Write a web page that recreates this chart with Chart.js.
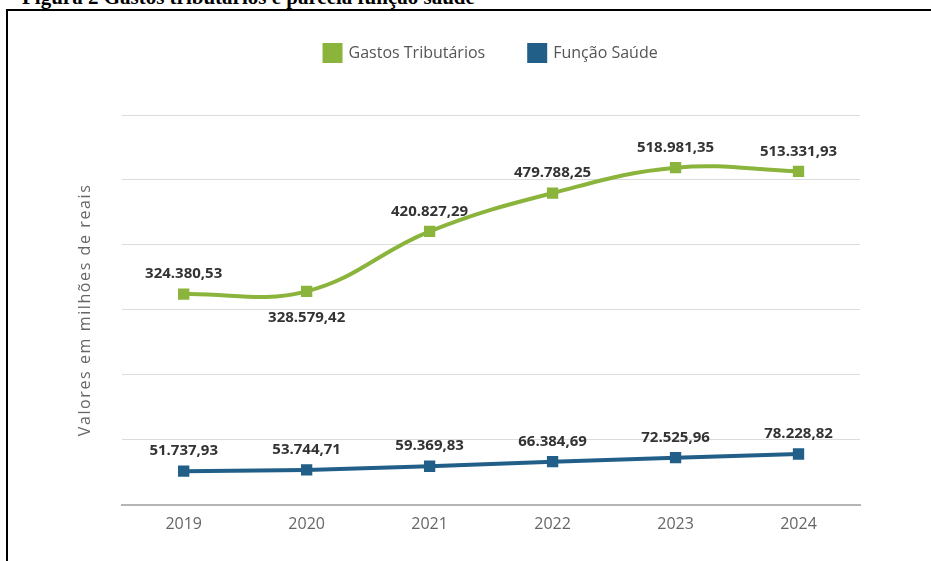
<!DOCTYPE html>
<html lang="pt-BR">
<head>
<meta charset="utf-8">
<title>Gastos tributários e parcela função saúde</title>
<script src="https://cdn.jsdelivr.net/npm/chart.js@4.4.1/dist/chart.umd.min.js"></script>
<style>
  html, body { margin: 0; padding: 0; background: #fff; overflow: hidden; }
  body { width: 931px; height: 561px; position: relative; }
  /* legenda da figura, cortada no topo */
  .figura-titulo {
    position: absolute; left: 22px; top: -13px; margin: 0;
    font: bold 21px "Liberation Serif", "Times New Roman", serif;
    line-height: 21px; color: #000; white-space: nowrap;
  }
  .moldura {
    position: absolute; left: 6px; top: 9px; width: 1000px; height: 700px;
    border-left: 2px solid #000; border-top: 2px solid #000;
  }
  .grafico { position: absolute; left: 0; top: 0; }
</style>
</head>
<body>
<p class="figura-titulo">Figura 2 Gastos tributários e parcela função saúde</p>
<div class="moldura"></div>
<div class="grafico"><canvas id="chartCanvas" width="931" height="561"></canvas></div>

<script>
// Anos e séries (valores em milhões de reais)
const anos = ['2019', '2020', '2021', '2022', '2023', '2024'];
const gastosTributarios = [324380.53, 328579.42, 420827.29, 479788.25, 518981.35, 513331.93];
const funcaoSaude = [51737.93, 53744.71, 59369.83, 66384.69, 72525.96, 78228.82];
const limiteEixo = 600000;
const passoEixo = 100000;

// Índices cujo rótulo vai abaixo do ponto (série de gastos)
const rotulosAbaixo = [1];

const verde = '#8bb43c';
const azul = '#215f88';
const fonte = '"Open Sans", sans-serif';

// Formata número no padrão brasileiro: 324.380,53
function formatarValor(valor) {
  const [inteiro, decimal] = valor.toFixed(2).split('.');
  return inteiro.replace(/\B(?=(\d{3})+(?!\d))/g, '.') + ',' + decimal;
}

// Escreve o valor de cada ponto sobre (ou sob) o marcador
const rotulosValores = {
  id: 'rotulosValores',
  afterDatasetsDraw(chart) {
    const ctx = chart.ctx;
    ctx.save();
    ctx.font = 'bold 15px ' + fonte;
    ctx.fillStyle = '#333';
    ctx.textAlign = 'center';
    ctx.textBaseline = 'middle';
    chart.data.datasets.forEach((ds, i) => {
      const meta = chart.getDatasetMeta(i);
      meta.data.forEach((pt, j) => {
        const abaixo = i === 0 && rotulosAbaixo.includes(j);
        const y = abaixo ? pt.y + 26 : pt.y - 20;
        ctx.fillText(formatarValor(ds.data[j]), pt.x, y);
      });
    });
    ctx.restore();
  }
};

// Espaço extra entre a legenda e a área do gráfico
const margemLegenda = {
  id: 'margemLegenda',
  beforeInit(chart) {
    const fitOriginal = chart.legend.fit;
    chart.legend.fit = function fit() {
      fitOriginal.bind(chart.legend)();
      this.height += 44;
    };
  }
};

// Título do eixo Y com letras espaçadas
const tituloEspacado = {
  id: 'tituloEspacado',
  afterLayout(chart) {
    const escala = chart.scales.y;
    if (escala._tituloEspacado) return;
    const drawTitleOriginal = escala.drawTitle;
    escala.drawTitle = function () {
      const c = this.ctx;
      c.save();
      c.letterSpacing = '1.6px';
      drawTitleOriginal.call(this);
      c.restore();
    };
    escala._tituloEspacado = true;
  }
};

const ctx = document.getElementById('chartCanvas').getContext('2d');
new Chart(ctx, {
  type: 'line',
  data: {
    labels: anos,
    datasets: [
      {
        label: 'Gastos Tributários',
        data: gastosTributarios,
        borderColor: verde,
        backgroundColor: verde,
        borderWidth: 4,
        tension: 0.4,
        pointStyle: 'rect',
        pointRadius: 8,
        pointBorderWidth: 0
      },
      {
        label: 'Função Saúde',
        data: funcaoSaude,
        borderColor: azul,
        backgroundColor: azul,
        borderWidth: 4,
        tension: 0,
        pointStyle: 'rect',
        pointRadius: 8,
        pointBorderWidth: 0
      }
    ]
  },
  options: {
    responsive: false,
    animation: false,
    layout: { padding: { left: 67, right: 71, top: 1, bottom: 25 } },
    plugins: {
      legend: {
        position: 'top',
        fullSize: false,
        labels: {
          boxWidth: 16,
          boxHeight: 16,
          padding: 44,
          color: '#555',
          font: { family: fonte, size: 16 }
        }
      },
      tooltip: { enabled: false }
    },
    scales: {
      x: {
        offset: true,
        grid: { display: false },
        border: { display: true, color: '#b5b5b5', width: 2 },
        ticks: {
          color: '#666',
          padding: 2,
          font: { family: fonte, size: 16 }
        }
      },
      y: {
        min: 0,
        max: limiteEixo,
        grid: { color: '#dcdcdc', lineWidth: 1, drawTicks: false },
        border: { display: false },
        ticks: { display: false, stepSize: passoEixo },
        title: {
          display: true,
          text: 'Valores em milhões de reais',
          color: '#666',
          padding: { top: 9, bottom: 27 },
          font: { family: fonte, size: 16 }
        }
      }
    }
  },
  plugins: [rotulosValores, margemLegenda, tituloEspacado]
});
</script>
</body>
</html>
